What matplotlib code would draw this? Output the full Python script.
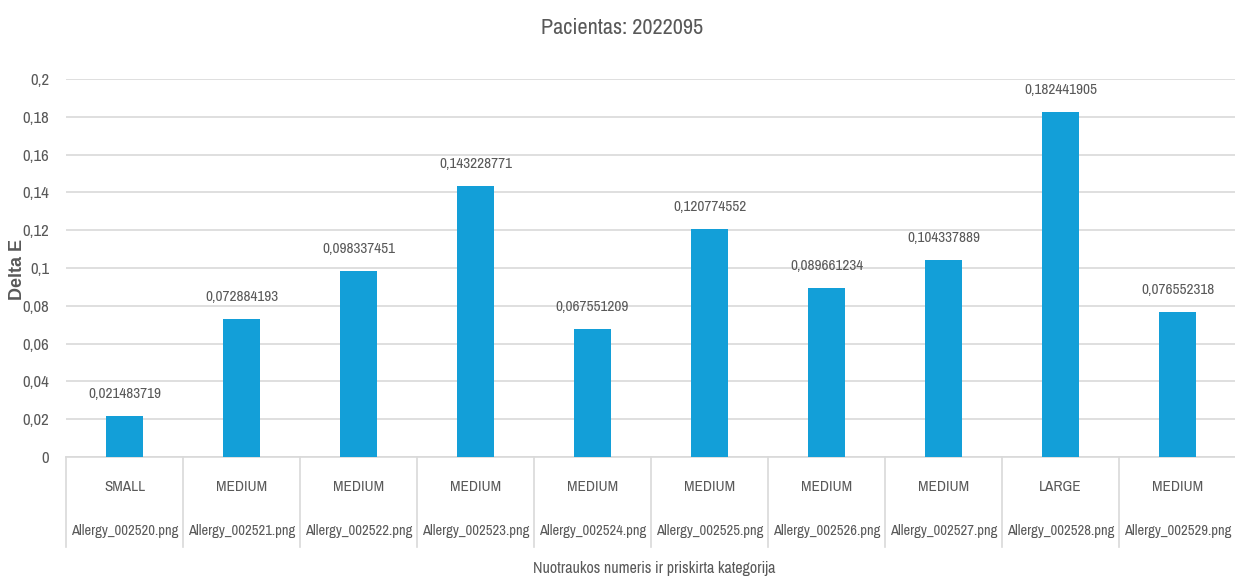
import matplotlib
matplotlib.use("Agg")
import matplotlib.pyplot as plt
from matplotlib.ticker import FuncFormatter, MultipleLocator

# data
files = ["Allergy_002520.png", "Allergy_002521.png", "Allergy_002522.png", "Allergy_002523.png",
         "Allergy_002524.png", "Allergy_002525.png", "Allergy_002526.png", "Allergy_002527.png",
         "Allergy_002528.png", "Allergy_002529.png"]
categories = ["SMALL", "MEDIUM", "MEDIUM", "MEDIUM", "MEDIUM",
              "MEDIUM", "MEDIUM", "MEDIUM", "LARGE", "MEDIUM"]
delta_e = [0.021483719, 0.072884193, 0.098337451, 0.143228771, 0.067551209,
           0.120774552, 0.089661234, 0.104337889, 0.182441905, 0.076552318]

narrow = ["Archivo Narrow", "DejaVu Sans"]
grey = "#595959"
line_col = "#D9D9D9"
bar_col = "#139FD8"

fig = plt.figure(figsize=(12.35, 5.76), dpi=100)
ax = fig.add_axes([66 / 1235, 119 / 576, 1170 / 1235, 378 / 576])

x = list(range(len(delta_e)))
bars = ax.bar(x, delta_e, width=0.32, color=bar_col, zorder=3)

ax.set_xlim(-0.5, len(delta_e) - 0.5)
ax.set_ylim(0, 0.2)
ax.yaxis.set_major_locator(MultipleLocator(0.02))
ax.yaxis.set_major_formatter(FuncFormatter(lambda v, p: f"{round(v, 2):g}".replace(".", ",")))
ax.yaxis.grid(True, color=line_col, linewidth=1.2, zorder=0)
ax.set_xticks([])
ax.tick_params(axis="y", length=0, pad=12, labelsize=12, labelcolor=grey)
for lab in ax.get_yticklabels():
    lab.set_family(narrow)
for s in ["top", "right", "left"]:
    ax.spines[s].set_visible(False)
ax.spines["bottom"].set_color(line_col)
ax.spines["bottom"].set_linewidth(1.2)

# value labels
for xi, v in zip(x, delta_e):
    ax.annotate(f"{v:.9f}".replace(".", ","), (xi, v), xytext=(0, 15), textcoords="offset pixels",
                ha="center", va="bottom", fontsize=11, color=grey, family=narrow)

# two-level category axis
tr = ax.get_xaxis_transform()
for i in range(len(delta_e) + 1):
    ax.plot([i - 0.5, i - 0.5], [0, -90 / 378], transform=tr, color=line_col,
            linewidth=1.2, clip_on=False)
for xi, c, f in zip(x, categories, files):
    ax.text(xi, -30 / 378, c, transform=tr, ha="center", va="center",
            fontsize=11, color=grey, family=narrow)
    ax.text(xi, -74 / 378, f, transform=tr, ha="center", va="center",
            fontsize=10.5, color=grey, family=narrow)

fig.text(622 / 1235, 1 - 28 / 576, "Pacientas: 2022095", ha="center", va="center",
         fontsize=16, color=grey, family=narrow)
fig.text(17 / 1235, 1 - 269 / 576, "Delta E", ha="center", va="center", rotation=90,
         fontsize=13, fontweight="bold", color=grey, family=["Liberation Sans", "DejaVu Sans"])
fig.text(654 / 1235, 1 - 568 / 576, "Nuotraukos numeris ir priskirta kategorija",
         ha="center", va="center", fontsize=11.5, color=grey, family=narrow)

fig.savefig("out.png", dpi=100)
